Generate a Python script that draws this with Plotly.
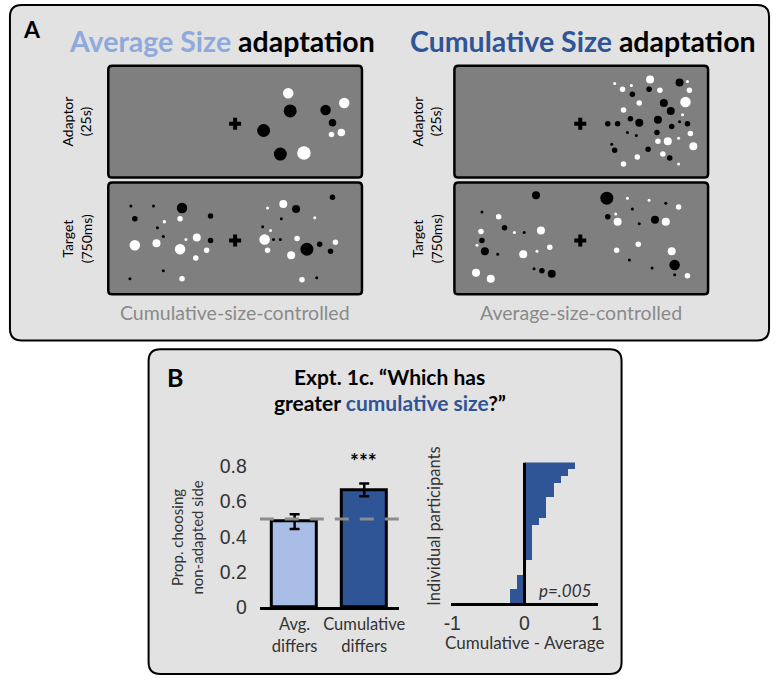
import plotly.graph_objects as go

W, H = 778, 688

# ---------------- data ----------------
# Panel A stimulus dots: (x_px, y_px, diameter_px, colour k/w)
avg_adaptor = [(286,93,10.5,'w'), (288,111,13,'k'), (261,131,13,'k'), (278,155,13,'k'), (302,154,13.5,'w'),
               (324,110,10.5,'k'), (343,103,10.5,'w'), (331,123,7.5,'k'), (340,133,7.5,'w'), (330,135,5.5,'w')]
avg_target = [(126,208,3,'k'), (149,208,3,'k'), (178,210,10.5,'k'), (176,221,5.5,'w'), (130,221,5.5,'k'),
              (160,224,3.5,'w'), (153,230,3,'k'), (159,239,3,'k'), (207,218,5.5,'k'), (130,248,10.5,'w'),
              (152,246,8,'w'), (176,252,10.5,'w'), (182,242,3,'w'), (193,240,8,'w'), (207,243,5.5,'k'),
              (203,253,5.5,'w'), (192,261,5.5,'w'), (159,274,3,'k'), (125,282,3,'k'), (178,282,5.5,'w'),
              (281,206,8,'w'), (265,210,3,'w'), (294,211,8,'k'), (331,199,5.5,'k'), (279,221,3,'k'),
              (313,220,3,'w'), (260,229,3,'k'), (268,233,3,'w'), (262,242,10.5,'w'), (271,242,3,'k'),
              (278,242,3,'k'), (295,241,5.5,'w'), (265,253,5.5,'w'), (289,258,8,'w'), (305,252,13,'k'),
              (318,247,5.5,'k'), (334,245,5.5,'w'), (329,254,5.5,'k'), (300,283,5.5,'w'), (315,281,3,'k')]
cum_adaptor = [(654,79,8,'w'), (684,82,8,'k'), (692,81,3,'w'), (618,83,3,'w'), (635,85,3,'w'), (626,89,5.5,'w'),
               (653,89,5.5,'k'), (664,90,5.5,'w'), (694,90,5.5,'w'), (636,94,5.5,'k'), (643,103,5.5,'w'),
               (668,103,8,'k'), (690,102,10.5,'w'), (627,110,5.5,'w'), (675,111,8,'k'), (687,115,3,'w'),
               (634,119,5.5,'k'), (643,123,8,'k'), (662,120,8,'k'), (684,122,3,'k'), (692,124,5.5,'k'),
               (611,124,5.5,'k'), (621,124,5.5,'k'), (676,127,5.5,'k'), (631,133,3,'k'), (640,136,3,'k'),
               (661,133,5.5,'k'), (695,134,5.5,'w'), (683,139,3,'w'), (662,142,5.5,'w'), (672,142,8,'w'),
               (615,145,3,'k'), (698,147,8,'w'), (618,151,5.5,'k'), (652,150,5.5,'k'), (667,155,5.5,'w'),
               (641,158,5.5,'w'), (674,159,5.5,'k'), (627,165,5.5,'w'), (683,165,3,'w')]
cum_target = [(538,197,8,'k'), (610,200,13,'k'), (631,200,3,'w'), (653,202,3,'w'), (670,205,3,'k'),
              (683,209,5.5,'w'), (636,211,3,'k'), (619,216,3,'w'), (611,219,5.5,'k'), (621,224,8,'w'),
              (659,222,8,'k'), (670,224,8,'w'), (643,226,3,'k'), (483,214,3,'k'), (500,219,5.5,'w'),
              (506,230,5.5,'k'), (516,235,3,'w'), (526,235,3,'k'), (543,233,8,'w'), (482,234,5.5,'w'),
              (483,243,5.5,'k'), (478,248,3,'w'), (486,254,8,'k'), (499,257,3,'k'), (525,257,8,'w'),
              (539,254,3,'w'), (552,250,5.5,'w'), (642,247,5.5,'w'), (620,253,5.5,'w'), (676,254,8,'w'),
              (633,263,3,'k'), (656,271,3,'k'), (679,268,10.5,'k'), (679,278,3,'k'), (692,279,5.5,'w'),
              (536,272,3,'k'), (544,274,5.5,'k'), (554,277,8,'k'), (477,276,8,'w'), (492,282,8,'w')]
fixation_x = [232, 232, 583, 583]
fixation_y = [124, 243, 124, 243]

# Panel B left: proportion choosing non-adapted side
conditions = ["Avg.<br>differs", "Cumulative<br>differs"]
prop_nonadapted = [0.485, 0.665]
prop_sem = [0.042, 0.036]
chance = 0.5

# Panel B right: individual participants (Cumulative - Average), sorted
participant_diff = [-0.2, -0.2, -0.1, -0.1, 0.0, 0.0, 0.1, 0.1, 0.1, 0.1, 0.1,
                    0.2, 0.3, 0.3, 0.3, 0.4, 0.4, 0.5, 0.6, 0.7]

# ---------------- style ----------------
LIGHT = '#a9bde6'
DARK = '#2f5597'
TITLE_LIGHT = '#8eaadc'
PANEL = '#e2e2e2'
STIM = '#7f7f7f'
FUT = 'Lato, "Noto Sans", sans-serif'
ARIAL = '"Liberation Sans", Arial, sans-serif'
COL = {'k': 'black', 'w': 'white'}

fig = go.Figure()

for dots in (avg_adaptor, avg_target, cum_adaptor, cum_target):
    fig.add_trace(go.Scatter(
        x=[d[0] for d in dots], y=[d[1] for d in dots], mode='markers',
        marker=dict(size=[d[2] for d in dots], color=[COL[d[3]] for d in dots],
                    opacity=1, line=dict(width=0)),
        xaxis='x', yaxis='y', hoverinfo='skip', showlegend=False))
fig.add_trace(go.Scatter(x=fixation_x, y=fixation_y, mode='markers',
                         marker=dict(symbol='cross', size=10, color='black', opacity=1, line=dict(width=0)),
                         xaxis='x', yaxis='y', hoverinfo='skip', showlegend=False))

fig.add_trace(go.Bar(
    x=[0, 1], y=prop_nonadapted, width=0.645,
    marker=dict(color=[LIGHT, DARK], line=dict(color='black', width=3)),
    error_y=dict(type='data', array=prop_sem, color='black', thickness=2.5, width=5),
    xaxis='x2', yaxis='y2', showlegend=False, hoverinfo='skip'))

fig.add_trace(go.Bar(
    x=participant_diff, y=list(range(1, len(participant_diff) + 1)), orientation='h', width=1,
    marker=dict(color=DARK, line=dict(width=0)),
    xaxis='x3', yaxis='y3', showlegend=False, hoverinfo='skip'))


def rrect(x0, y0, x1, y1, r):
    return (f"M{x0+r},{y0} L{x1-r},{y0} Q{x1},{y0} {x1},{y0+r} L{x1},{y1-r} Q{x1},{y1} {x1-r},{y1} "
            f"L{x0+r},{y1} Q{x0},{y1} {x0},{y1-r} L{x0},{y0+r} Q{x0},{y0} {x0+r},{y0} Z")


shapes = [
    dict(type='path', path=rrect(3, 3, 775, 345, 12), xref='x', yref='y', fillcolor=PANEL,
         line=dict(color='black', width=2), layer='below'),
    dict(type='path', path=rrect(144, 354, 625, 685, 12), xref='x', yref='y', fillcolor=PANEL,
         line=dict(color='black', width=2), layer='below'),
]
for (x0, y0, x1, y1) in [(103, 65, 361, 179), (103, 184, 361, 298), (455, 65, 713, 179), (455, 184, 713, 298)]:
    shapes.append(dict(type='path', path=rrect(x0, y0, x1, y1, 4), xref='x', yref='y', fillcolor=STIM,
                       line=dict(color='black', width=2.5), layer='below'))
shapes.append(dict(type='line', xref='x2', yref='y2', x0=-0.5, x1=1.5, y0=chance, y1=chance,
                   line=dict(color='#8c8c8c', width=3, dash='14px,11px'), layer='above'))
shapes.append(dict(type='line', xref='x3', yref='y3', x0=0, x1=0, y0=0.5, y1=len(participant_diff) + 0.5,
                   line=dict(color='black', width=3), layer='above'))


def ann(x, y, text, size, color='black', family=FUT, angle=0, xanchor='center'):
    return dict(x=x, y=y, xref='x', yref='y', text=text, showarrow=False, textangle=angle,
                font=dict(size=size, color=color, family=family), xanchor=xanchor, yanchor='middle')


annotations = [
    ann(25, 28, '<b>A</b>', 23),
    ann(219, 40, f'<b><span style="color:{TITLE_LIGHT}">Average Size</span> adaptation</b>', 28.5),
    ann(586, 40, f'<b><span style="color:{DARK}">Cumulative Size</span> adaptation</b>', 28.5),
    ann(71, 122, 'Adaptor<br>(25s)', 14, angle=-90),
    ann(71, 241, 'Target<br>(750ms)', 14, angle=-90),
    ann(427, 122, 'Adaptor<br>(25s)', 14, angle=-90),
    ann(427, 241, 'Target<br>(750ms)', 14, angle=-90),
    ann(232, 316, 'Cumulative-size-controlled', 19.5, color='#8a8a8a'),
    ann(584, 316, 'Average-size-controlled', 19.5, color='#8a8a8a'),
    ann(171, 382, '<b>B</b>', 25),
    ann(389, 382, '<b>Expt. 1c. “Which has</b>', 21),
    ann(389, 408, f'<b>greater <span style="color:{DARK}">cumulative size</span>?”</b>', 21),
    ann(183, 546, 'Prop. choosing<br>non-adapted side', 15, color='#333333', angle=-90),
    ann(363, 467, '<b>***</b>', 21),
    ann(434, 534, 'Individual participants', 16.5, color='#333333', angle=-90),
    ann(567, 600, '<i>p=.005</i>', 17, color='#333333'),
    ann(526, 653, 'Cumulative - Average', 17, color='#333333'),
]

fig.update_layout(
    width=W, height=H, margin=dict(l=0, r=0, t=0, b=0),
    paper_bgcolor='white', plot_bgcolor='rgba(0,0,0,0)',
    shapes=shapes, annotations=annotations, bargap=0,
    xaxis=dict(domain=[0, 1], range=[0, W], visible=False, fixedrange=True),
    yaxis=dict(domain=[0, 1], range=[H, 0], visible=False, fixedrange=True),
    xaxis2=dict(domain=[257.1 / W, 398.7 / W], range=[-0.5, 1.5], anchor='y2',
                showline=True, linecolor='black', linewidth=3, ticks='', showgrid=False, zeroline=False,
                tickvals=[0, 1], ticktext=conditions, tickfont=dict(family=FUT, size=16.5, color='#333333')),
    yaxis2=dict(domain=[(H - 617) / H, (H - 464) / H], range=[0, 0.85], anchor='x2',
                showline=False, ticks='', showgrid=False, zeroline=False,
                tickvals=[0, 0.2, 0.4, 0.6, 0.8], ticktext=['0', '0.2', '0.4', '0.6', '0.8'],
                tickfont=dict(family=ARIAL, size=19.5, color='#333333'), ticklabelstandoff=12),
    xaxis3=dict(domain=[451.4 / W, 601.2 / W], range=[-1.02, 1.02], anchor='y3',
                showline=True, linecolor='black', linewidth=3, ticks='', showgrid=False, zeroline=False,
                tickvals=[-1, 0, 1], ticktext=['-1', '0', '1'],
                tickfont=dict(family=ARIAL, size=19.5, color='#333333')),
    yaxis3=dict(domain=[(H - 612.7) / H, (H - 469.3) / H], range=[0.5, len(participant_diff) + 0.5],
                anchor='x3', visible=False),
)

fig.write_html("out.html")
